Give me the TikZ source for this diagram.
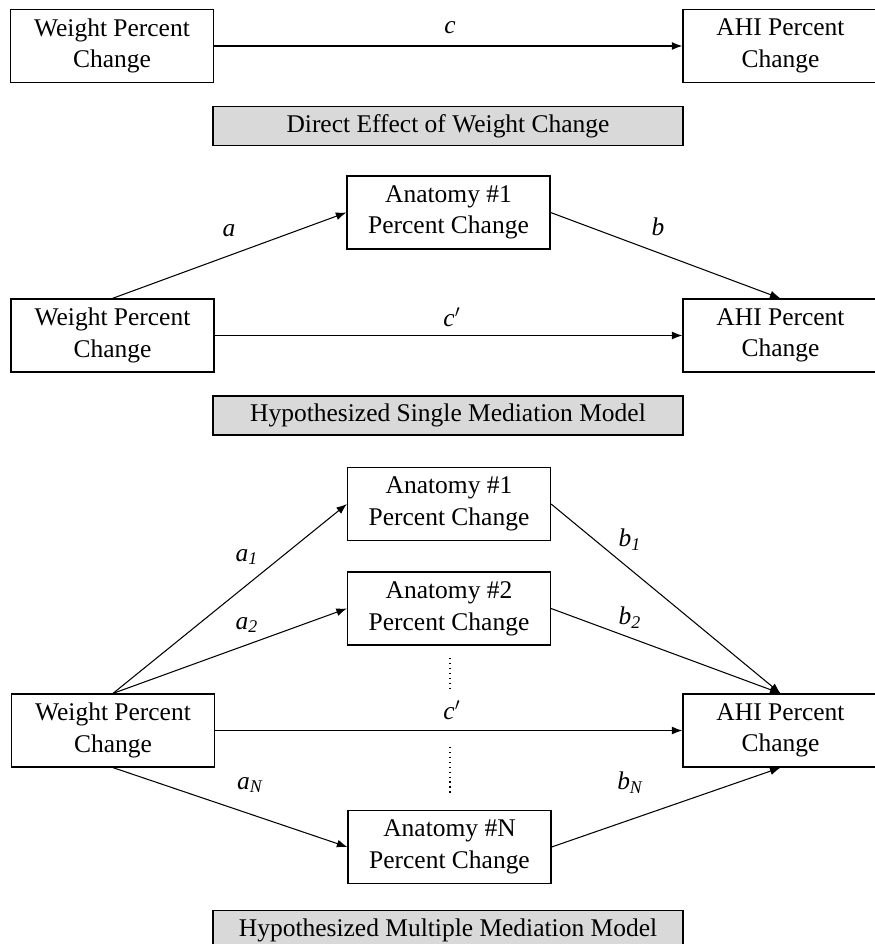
\documentclass[tikz,border=0pt]{standalone}
\usepackage{fontspec}
\setmainfont{Liberation Serif}
\usepackage{xcolor}
\usetikzlibrary{arrows.meta}

\begin{document}
\begin{tikzpicture}[
    var/.style={draw=black,line width=0.7pt,minimum width=4.06cm,minimum height=1.46cm,inner sep=0pt,align=center,font=\fontsize{14.5pt}{18pt}\selectfont},
    ahi/.style={var,minimum width=3.9cm},
    title/.style={draw=black,line width=0.7pt,fill=gray!30,minimum width=9.4cm,minimum height=0.78cm,inner sep=0pt,font=\fontsize{14.5pt}{18pt}\selectfont},
    lab/.style={inner sep=0pt,font=\fontsize{14.5pt}{18pt}\selectfont\itshape},
    arr/.style={>={Latex[length=6pt,width=4.5pt]},->,line width=0.6pt}]
    \useasboundingbox (0,0) rectangle (17.5,-18.88);
    % direct effect
    \node[var](w0)at(2.24,-0.92){Weight Percent\\Change};
    \node[ahi](h0)at(15.61,-0.92){AHI Percent\\Change};
    \node[title](t0)at(8.96,-2.52){Direct Effect of Weight Change};
    \draw[arr] (w0) -- (h0);
    \node[lab](c0)at(9.0,-0.56){c};
    % single mediation
    \node[var](m1)at(8.97,-4.25){Anatomy \#1\\Percent Change};
    \node[var](w1)at(2.25,-6.71){Weight Percent\\Change};
    \node[ahi](h1)at(15.61,-6.71){AHI Percent\\Change};
    \node[title](t1)at(8.96,-8.31){Hypothesized Single Mediation Model};
    \draw[arr] (w1.north) -- (m1.west);
    \draw[arr] (m1.east) -- (h1.north);
    \draw[arr] (w1) -- (h1);
    \node[lab](a1)at(4.58,-4.62){a};
    \node[lab](b1)at(13.16,-4.54){b};
    \node[lab](c1)at(9.04,-6.34){c$'$};
    % multiple mediation
    \node[var](n1)at(8.98,-10.08){Anatomy \#1\\Percent Change};
    \node[var](n2)at(8.98,-12.17){Anatomy \#2\\Percent Change};
    \node[var](w2)at(2.26,-14.61){Weight Percent\\Change};
    \node[ahi](h2)at(15.61,-14.61){AHI Percent\\Change};
    \node[var](nN)at(8.99,-16.94){Anatomy \#N\\Percent Change};
    \node[title](t2)at(8.96,-18.6){Hypothesized Multiple Mediation Model};
    \coordinate(d1)at(9.0,-13.16);
    \coordinate(d2)at(9.0,-13.8);
    \coordinate(d3)at(9.0,-14.94);
    \coordinate(d4)at(9.0,-15.9);
    \draw[arr] (w2.north) -- (n1.west);
    \draw[arr] (w2.north) -- (n2.west);
    \draw[arr] (w2.south) -- (nN.west);
    \draw[arr] (n1.east) -- (h2.north);
    \draw[arr] (n2.east) -- (h2.north);
    \draw[arr] (nN.east) -- (h2.south);
    \draw[arr] (w2) -- (h2);
    \draw[dotted,line width=0.8pt] (d1) -- (d2);
    \draw[dotted,line width=0.8pt] (d3) -- (d4);
    \node[lab](a21)at(4.94,-11.14){a\textsubscript{1}};
    \node[lab](a22)at(4.94,-12.5){a\textsubscript{2}};
    \node[lab](a2N)at(5.0,-15.7){a\textsubscript{N}};
    \node[lab](b21)at(12.6,-10.8){b\textsubscript{1}};
    \node[lab](b22)at(12.6,-12.36){b\textsubscript{2}};
    \node[lab](b2N)at(12.6,-15.66){b\textsubscript{N}};
    \node[lab](c2)at(9.04,-14.2){c$'$};
\end{tikzpicture}
\end{document}
